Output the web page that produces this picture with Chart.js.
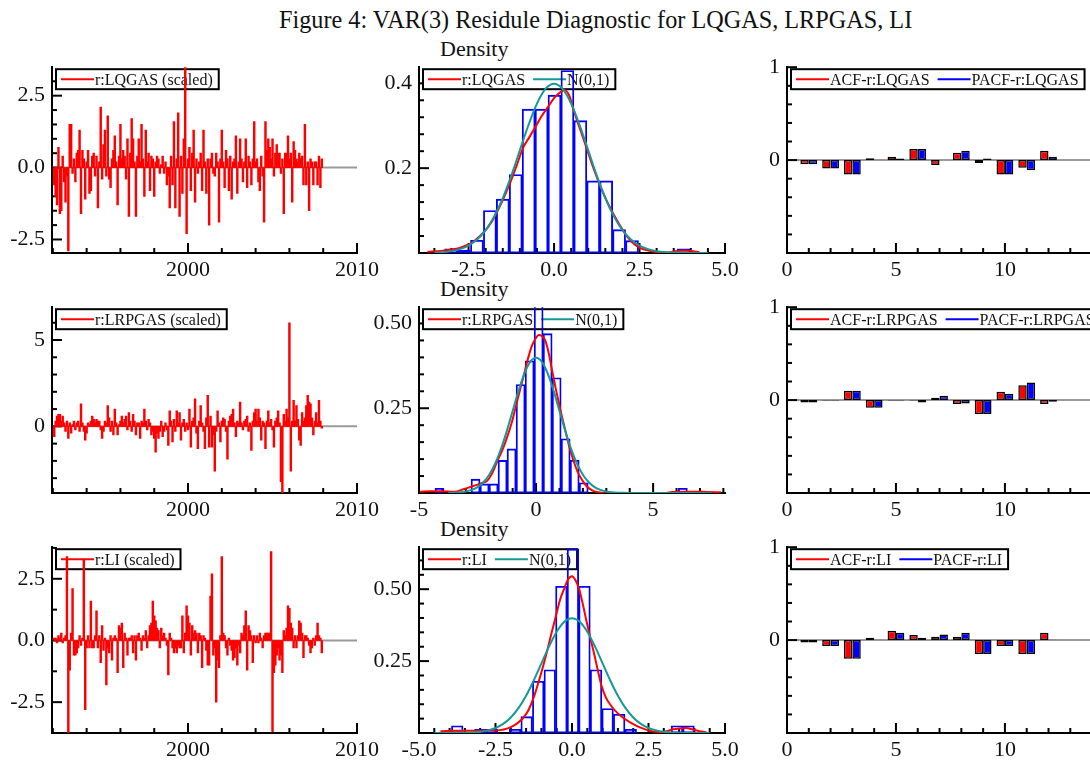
<!DOCTYPE html>
<html>
<head>
<meta charset="utf-8">
<title>VAR(3) Residule Diagnostic</title>
<script src="https://cdn.jsdelivr.net/npm/chart.js@4.4.1/dist/chart.umd.min.js"></script>
<style>
  html, body { margin: 0; padding: 0; background: #fff; overflow: hidden; }
  #page { position: relative; width: 1090px; height: 760px; overflow: hidden; }
  #page canvas { position: absolute; }
  .lbl { position: absolute; font-family: 'Liberation Serif', 'Times New Roman', serif; color: #111; line-height: 1; white-space: nowrap; }
  .dens { font-size: 22px; left: 440px; }
</style>
</head>
<body>
<div id="page">
  <div id="title" class="lbl">Figure 4: VAR(3) Residule Diagnostic for LQGAS, LRPGAS, LI</div>
  <div class="lbl dens" style="top:38px">Density</div>
  <div class="lbl dens" style="top:278px">Density</div>
  <div class="lbl dens" style="top:518px">Density</div>
</div>
<script>
// ---- data ----
const seriesNames = ['LQGAS', 'LRPGAS', 'LI'];

// scaled residuals, monthly, first obs 1992(2)
const tsStart = 1992 + 1 / 12;
const lqgasRes = [
  -0.6, -1.0, -1.3, 0.7, -1.6, -1.5, 0.4, -0.5, -1.2, -0.3, -2.9, 1.5,
  1.5, -0.2, 0.3, -0.5, 0.5, 0.6, 1.3, -1.6, 0.6, 0.3, -1.1, 0.2,
  0.6, -0.9, -0.8, 0.4, 0.5, -0.3, 0.4, -1.4, 0.2, 2.1, -0.4, 0.8,
  1.3, -0.3, 1.8, -0.4, -0.7, 0.3, 0.6, 1.1, 0.2, -1.3, 0.4, 1.5,
  0.3, 0.6, 0.4, -0.4, 1.0, -1.7, 0.5, 1.7, 1.0, 0.2, -1.7, 0.4,
  1.0, 0.2, 1.5, 0.3, -1.0, 1.3, 0.2, 0.5, -0.8, 0.4, 0.3, -1.0,
  0.2, 0.4, 0.3, -0.2, 0.1, 0.4, -0.2, 0.2, -0.6, -0.3, -1.4, 0.4,
  -0.6, 1.6, -1.4, 0.3, 1.9, -1.7, 0.4, -0.9, 1.0, 3.5, -2.3, 0.3,
  0.7, -0.8, 0.5, 1.3, -1.2, 0.3, -0.2, 0.2, 0.5, -0.8, 1.3, 0.2,
  -0.9, 0.3, -2.0, 0.3, 0.5, -0.2, -0.3, 0.5, 0.2, -1.9, 0.3, 1.3,
  0.2, -0.7, 0.6, 0.3, -0.8, 0.4, -1.1, 0.2, 0.3, 1.1, -0.9, 0.2,
  1.0, 0.3, -0.5, 0.2, 1.0, -0.7, 0.4, 0.2, -0.6, 0.3, 1.6, 0.2,
  0.3, -0.5, -0.8, 0.4, -0.3, -1.9, 1.6, 0.6, 1.0, 0.7, 0.3, 1.0,
  -0.3, 0.5, 0.8, 0.5, 0.5, -0.2, 0.3, -1.6, 0.5, 0.5, 1.1, 0.3,
  0.5, -1.2, 0.9, 0.6, 0.3, 0.2, 0.5, 0.3, 0.4, -0.6, 1.5, -0.6,
  0.2, -1.5, 0.3, 0.2, -0.6, 0.2, 0.2, -0.6, 0.4, -0.7, 0.3
];
const lrpgasRes = [
  -0.6, 0.3, 0.6, 0.7, 0.7, 0.3, 0.6, 0.2, -0.3, 0.3, -0.7, 0.2,
  -0.4, 0.1, 0.3, -0.2, 0.2, 0.3, -0.3, 1.3, 0.2, -0.3, -0.8, -0.4,
  0.2, 0.1, 0.3, 0.6, 0.4, 0.2, 0.4, 0.3, 0.3, -0.2, -0.7, -0.3,
  0.3, 0.2, 1.2, 0.5, -0.3, 0.3, -0.5, 1.0, 0.2, -0.5, 0.1, 0.3,
  0.6, 0.2, 0.4, 0.6, -0.2, 0.8, 0.3, -0.3, 0.7, 0.3, -0.5, 0.2,
  0.2, -0.7, 0.3, 0.2, 1.0, 0.3, -0.2, 0.4, 0.2, -0.5, -0.3, -0.7,
  -1.5, -0.4, -0.7, -0.3, 0.3, -0.6, -0.3, 0.2, -0.2, -1.1, 0.9, 0.3,
  -0.9, 0.4, -0.3, 0.9, 0.2, 0.8, -0.8, 0.2, 0.4, -0.3, 0.2, -0.2,
  1.0, -1.2, 0.3, 0.5, 1.6, -0.4, -1.3, 0.3, 1.2, 0.2, -0.3, -1.3,
  0.5, 1.8, -1.2, 0.6, -1.2, -0.5, -2.6, -0.3, 0.9, 0.2, -0.9, 0.3,
  0.5, 0.4, -0.3, -1.9, 0.3, 0.6, 0.7, 1.0, 0.2, -0.6, 0.3, 0.2,
  1.4, 0.2, -0.2, 0.3, 0.4, 0.6, -0.3, 0.2, -1.4, 0.3, 0.8, 1.0,
  0.3, 1.0, 0.5, -0.8, 0.3, 0.2, -1.3, 0.3, 0.9, 0.2, 0.4, -0.2,
  -1.2, 0.3, 0.5, 0.9, 0.2, -3.2, -3.9, 0.7, 0.3, 1.0, 0.5, 6.0,
  -2.6, 0.3, 1.5, 0.3, 1.2, 0.4, -0.8, -1.1, 0.8, 0.3, 0.5, 1.2,
  1.8, 1.4, 1.3, 0.5, -0.5, 0.3, 0.8, 0.2, 1.5, 0.3, -0.1
];
const liRes = [
  0.1, 0.1, -0.1, 0.2, 0.1, 0.3, -0.1, 0.1, 0.2, 3.4, -3.9, -1.2,
  0.3, 2.1, -0.6, -0.6, -0.5, -0.3, 0.2, -0.2, 0.1, 3.3, -2.8, -0.3,
  0.2, -0.3, 1.6, -0.3, -0.3, 0.2, 1.2, -0.3, 0.2, -0.9, 0.6, -0.4,
  0.1, -1.8, -0.3, -0.5, 0.2, -0.8, 0.1, 0.2, 0.1, -1.3, 0.6, 0.5,
  0.7, -1.1, 0.3, 0.1, -0.6, 0.1, 0.1, 0.2, -0.5, 0.2, -0.8, 0.2,
  0.3, 0.1, -0.4, 0.2, 0.1, 0.4, -0.3, 0.2, 0.6, 0.7, 1.6, 1.0,
  0.8, 0.5, 0.4, -0.3, 0.5, 0.2, 0.3, 0.1, -0.2, -1.4, 0.3, 0.1,
  -0.3, -0.5, -0.3, -0.5, -0.2, -0.3, -0.3, 1.0, -0.5, 0.3, 1.4, 1.0,
  0.7, -0.6, 0.6, 0.3, 0.4, 0.3, -0.5, 0.3, 0.2, -1.1, 0.2, 0.1,
  -0.4, -1.0, -1.0, 1.8, 2.7, -0.6, -0.3, -2.5, -0.8, -1.1, 0.2, 3.4,
  0.3, 0.2, -0.3, -0.6, 0.1, -0.2, -0.4, -0.8, -0.7, -0.3, -1.0, -0.2,
  -0.5, 0.3, 0.2, 0.6, 1.2, -1.2, 0.6, 0.4, 0.2, -0.9, 0.2, -0.1,
  0.2, -0.1, 0.3, 0.1, -0.3, 0.2, 0.3, 0.3, 0.3, 0.3, 3.6, -3.7,
  -1.3, -1.0, -0.6, -0.3, -0.8, -0.6, -1.3, 0.4, 0.2, 0.5, 1.4, 1.3,
  0.7, 0.5, -0.3, 0.2, -0.3, 0.2, 0.8, 0.7, 0.3, -0.7, 0.2, 0.2,
  0.1, -0.2, -0.5, -0.3, 0.1, -0.2, 0.2, 0.7, 0.2, 0.1, -0.5
];

// histograms (bin centres, density heights)
const histX1 = [-3.011, -2.633, -2.255, -1.877, -1.499, -1.121, -0.743, -0.365, 0.013, 0.391,
  0.769, 1.147, 1.525, 1.903, 2.281, 2.659, 3.037, 3.415, 3.793];
const histY1 = [0.01, 0.007, 0.03, 0.10, 0.127, 0.185, 0.339, 0.339, 0.372, 0.43,
  0.312, 0.17, 0.17, 0.055, 0.029, 0, 0, 0, 0.01];
const histX2 = [-4.125, -3.740, -3.355, -2.970, -2.585, -2.200, -1.815, -1.430, -1.045, -0.660,
  -0.275, 0.110, 0.495, 0.880, 1.265, 1.650, 2.035, 2.420, 2.805, 3.190,
  3.575, 3.960, 4.345, 4.730, 5.115, 5.500, 5.885, 6.270];
const histY2 = [0.014, 0, 0, 0, 0.041, 0.027, 0.027, 0.096, 0.13, 0.32,
  0.39, 0.57, 0.47, 0.34, 0.16, 0.097, 0.03, 0, 0, 0,
  0, 0, 0, 0, 0, 0, 0, 0.014];
const histX3 = [-3.750, -3.372, -2.994, -2.616, -2.238, -1.860, -1.482, -1.104, -0.726, -0.348,
  0.030, 0.408, 0.786, 1.164, 1.542, 1.920, 2.298, 2.676, 3.054, 3.432, 3.810];
const histY3 = [0.025, 0, 0.013, 0.013, 0, 0.013, 0.057, 0.18, 0.22, 0.51,
  0.64, 0.51, 0.22, 0.085, 0.065, 0.013, 0, 0, 0, 0.025, 0.025];

// kernel density of the residuals
const densX1 = [-3.7, -3.3, -3.0, -2.76, -2.5, -2.37, -2.2, -2.02, -1.85, -1.68, -1.5, -1.29, -1.1, -0.9,
  -0.73, -0.56, -0.37, -0.17, 0.0, 0.17, 0.3, 0.45, 0.6, 0.77, 0.96, 1.13, 1.3, 1.5, 1.69, 1.89,
  2.08, 2.28, 2.47, 2.65, 2.8, 3.0, 3.2, 3.4, 3.6, 3.8, 4.0, 4.25];
const densY1 = [0.003, 0.005, 0.008, 0.012, 0.02, 0.026, 0.038, 0.052, 0.07, 0.095, 0.125, 0.164, 0.205, 0.249,
  0.272, 0.295, 0.322, 0.345, 0.365, 0.378, 0.384, 0.37, 0.33, 0.29, 0.245, 0.205, 0.168, 0.13, 0.099, 0.07,
  0.045, 0.026, 0.014, 0.008, 0.005, 0.002, 0.001, 0.002, 0.005, 0.006, 0.005, 0.002];
const densX2 = [-4.95, -4.5, -4.0, -3.5, -3.1, -2.8, -2.53, -2.3, -2.1, -1.9, -1.68, -1.45, -1.25, -1.05,
  -0.89, -0.7, -0.54, -0.35, -0.18, 0.0, 0.11, 0.25, 0.39, 0.55, 0.68, 0.85, 1.03, 1.23, 1.43, 1.6,
  1.81, 2.0, 2.17, 2.4, 2.6, 3.0, 5.5, 5.8, 6.3, 6.8, 7.3, 7.9];
const densY2 = [0.004, 0.005, 0.005, 0.004, 0.011, 0.018, 0.024, 0.03, 0.035, 0.055, 0.09, 0.125, 0.162, 0.205,
  0.248, 0.3, 0.343, 0.395, 0.434, 0.458, 0.466, 0.463, 0.45, 0.41, 0.363, 0.305, 0.248, 0.19, 0.134, 0.095,
  0.057, 0.035, 0.019, 0.008, 0.003, 0.0, 0.0, 0.003, 0.004, 0.004, 0.003, 0.002];
const densX3 = [-4.3, -3.8, -3.3, -3.0, -2.65, -2.35, -2.1, -1.92, -1.75, -1.59, -1.42, -1.26, -1.1, -0.94,
  -0.8, -0.67, -0.53, -0.4, -0.26, -0.13, 0.0, 0.12, 0.25, 0.36, 0.47, 0.6, 0.74, 0.85, 0.96, 1.1,
  1.29, 1.48, 1.67, 1.9, 2.11, 2.33, 2.54, 2.75, 2.98, 3.15, 3.3, 3.5, 3.73, 3.95, 4.16, 4.4];
const densY3 = [0.006, 0.008, 0.008, 0.008, 0.009, 0.01, 0.016, 0.025, 0.037, 0.053, 0.08, 0.121, 0.175, 0.234,
  0.29, 0.347, 0.405, 0.46, 0.5, 0.534, 0.545, 0.53, 0.494, 0.445, 0.39, 0.33, 0.268, 0.215, 0.166, 0.125,
  0.093, 0.07, 0.053, 0.037, 0.025, 0.015, 0.008, 0.004, 0.003, 0.008, 0.013, 0.016, 0.017, 0.012, 0.006, 0.002];

// N(0,1) reference curve and the span drawn in each panel
const normX = [-4.5, -4.25, -4.0, -3.75, -3.5, -3.25, -3.0, -2.75, -2.5, -2.25, -2.0, -1.75, -1.5, -1.25,
  -1.0, -0.75, -0.5, -0.25, 0, 0.25, 0.5, 0.75, 1.0, 1.25, 1.5, 1.75, 2.0, 2.25, 2.5, 2.75,
  3.0, 3.25, 3.5, 3.75, 4.0, 4.25, 4.5, 5.0, 6.0, 7.0, 7.5];
const normY = [0, 0, 0.0001, 0.0004, 0.0009, 0.002, 0.0044, 0.0091, 0.0175, 0.0317, 0.054, 0.0863, 0.1295, 0.1826,
  0.242, 0.3011, 0.3521, 0.3867, 0.3989, 0.3867, 0.3521, 0.3011, 0.242, 0.1826, 0.1295, 0.0863, 0.054, 0.0317, 0.0175, 0.0091,
  0.0044, 0.002, 0.0009, 0.0004, 0.0001, 0, 0, 0, 0, 0, 0];
const normRange = [[-3.5, 4.75], [-3.75, 7.5], [-4.5, 4.5]];

// correlograms, lags 1..12
const lags = [1, 2, 3, 4, 5, 6, 7, 8, 9, 10, 11, 12];
const acfLQGAS = [-0.045, -0.09, -0.155, 0.02, 0.036, 0.12, -0.054, 0.08, -0.03, -0.155, -0.083, 0.1];
const pacfLQGAS = [-0.045, -0.09, -0.155, 0.004, 0.018, 0.12, 0, 0.1, 0.018, -0.155, -0.11, 0.036];
const acfLRPGAS = [-0.025, -0.005, 0.1, -0.082, -0.005, -0.004, 0.025, -0.043, -0.15, 0.09, 0.16, -0.043];
const pacfLRPGAS = [-0.025, -0.005, 0.1, -0.082, -0.005, -0.025, 0.046, -0.036, -0.15, 0.068, 0.19, -0.018];
const acfLI = [-0.025, -0.064, -0.2, 0.025, 0.1, 0.054, 0.036, 0.036, -0.15, -0.064, -0.15, 0.08];
const pacfLI = [-0.025, -0.064, -0.2, 0.005, 0.08, 0.025, 0.06, 0.08, -0.15, -0.064, -0.15, 0.005];

// labelled ticks
const yearTicks = [2000, 2010];
const resTicksY = [[-2.5, 0, 2.5], [0, 5], [-2.5, 0, 2.5]];
const densTicksX = [[-2.5, 0, 2.5, 5], [-5, 0, 5], [-5, -2.5, 0, 2.5, 5]];
const densTicksY = [[0.2, 0.4], [0.25, 0.5], [0.25, 0.5]];
const lagTicks = [0, 5, 10];
const corrTicksY = [0, 1];

// ---- look ----
const SERIF = "'Liberation Serif', 'Times New Roman', serif";
const RED = '#ff0000', BLUE = '#0000ff', TEAL = '#14999a', INK = '#111111';

const colBox = [
  { plotL: 52, plotR: 357, left: 0, padR: 32 },
  { plotL: 419, plotR: 725, left: 362, padR: 32 },
  { plotL: 787, plotR: 1091, left: 738, padR: 0 }
];
const rowBox = [
  { plotT: 63, plotB: 253 },
  { plotT: 303, plotB: 493 },
  { plotT: 543, plotB: 733 }
];
const PAD_TOP = 16, X_AXIS_H = 27;

const page = document.getElementById('page');

// title, stretched to the width it has in the figure
(() => {
  const t = document.getElementById('title');
  const m = document.createElement('canvas').getContext('2d');
  m.font = '22px ' + SERIF;
  const fs = 22 * 634 / m.measureText(t.textContent).width;
  t.style.fontSize = fs + 'px';
  t.style.left = '279px';
  t.style.top = (28 - 0.8375 * fs) + 'px';
})();

function line(ctx, x1, y1, x2, y2) {
  ctx.beginPath(); ctx.moveTo(x1, y1); ctx.lineTo(x2, y2); ctx.stroke();
}

// inner tick marks, zero line and boxed legend
const decor = {
  id: 'decor',
  beforeDatasetsDraw(chart) {
    const o = chart.canvas.decor || {};
    const { ctx, chartArea: a, scales: { x, y } } = chart;
    ctx.save();
    if (o.zeroLine) {
      ctx.strokeStyle = '#9a9a9a'; ctx.lineWidth = 2;
      const py = y.getPixelForValue(0);
      line(ctx, a.left, py, a.right, py);
    }
    ctx.strokeStyle = '#000'; ctx.lineWidth = 2;
    x.ticks.forEach(t => {
      const px = x.getPixelForValue(t.value);
      line(ctx, px, a.bottom, px, a.bottom - (t.label ? 10 : 5));
    });
    y.ticks.forEach(t => {
      const py = y.getPixelForValue(t.value);
      line(ctx, a.left, py, a.left + (t.label ? 10 : 5), py);
    });
    if (o.legend) {
      ctx.font = '16px ' + SERIF;
      const x0 = a.left + 4, y0 = a.top + 2, h = 20, sw = 33;
      const widths = o.legend.map(it => ctx.measureText(it.text).width);
      let w = 5;
      widths.forEach((tw, i) => { w += sw + 1 + tw + (i < widths.length - 1 ? 8 : 6); });
      ctx.fillStyle = '#fff';
      ctx.fillRect(x0, y0, w, h);
      ctx.strokeStyle = '#000'; ctx.lineWidth = 2;
      ctx.strokeRect(x0, y0, w, h);
      let cx = x0 + 5;
      o.legend.forEach((it, i) => {
        ctx.strokeStyle = it.color; ctx.lineWidth = 2;
        line(ctx, cx, y0 + h / 2, cx + sw, y0 + h / 2);
        cx += sw + 1;
        ctx.fillStyle = INK; ctx.textBaseline = 'alphabetic'; ctx.textAlign = 'left';
        ctx.fillText(it.text, cx, y0 + 16);
        cx += widths[i] + 8;
      });
    }
    ctx.restore();
  }
};

function axis(min, max, step, majors, fmt, isX) {
  return {
    type: 'linear', min, max, offset: false,
    grid: { display: false, drawTicks: false },
    border: { display: true, color: '#000', width: 2 },
    ticks: {
      stepSize: step, autoSkip: false, includeBounds: false, maxRotation: 0,
      padding: isX ? 4 : 7, color: INK, font: { family: SERIF, size: 22 },
      callback: v => majors.some(m => Math.abs(m - v) < 1e-6) ? fmt(v) : ''
    }
  };
}

function panel(c, r, datasets, xAxis, yAxis, deco) {
  const cb = colBox[c], rb = rowBox[r];
  const yW = cb.plotL - cb.left;
  const cv = document.createElement('canvas');
  cv.width = yW + (cb.plotR - cb.plotL) + cb.padR;
  cv.height = PAD_TOP + (rb.plotB - rb.plotT) + X_AXIS_H;
  cv.style.left = cb.left + 'px';
  cv.style.top = (rb.plotT - PAD_TOP) + 'px';
  cv.decor = deco;
  page.appendChild(cv);
  xAxis.afterFit = s => { s.height = X_AXIS_H; };
  yAxis.afterFit = s => { s.width = yW; };
  return new Chart(cv, {
    type: 'bar',
    data: { datasets },
    options: {
      responsive: false, animation: false, devicePixelRatio: 1, events: [],
      layout: { padding: { top: PAD_TOP, right: cb.padR, left: 0, bottom: 0 } },
      scales: { x: xAxis, y: yAxis },
      plugins: { legend: { display: false }, tooltip: { enabled: false } }
    },
    plugins: [decor]
  });
}

const pts = (xs, ys) => xs.map((x, i) => ({ x, y: ys[i] }));
const fix1 = v => v.toFixed(1), fix2 = v => v.toFixed(2), plain = v => String(v);

// column 1: scaled residuals
const resSeries = [lqgasRes, lrpgasRes, liRes];
const resRange = [[-2.97, 3.49], [-3.86, 6.9], [-3.75, 3.78]];
const resStep = [0.5, 1, 1.25];
const resFmt = [fix1, plain, fix1];
resSeries.forEach((vals, r) => {
  panel(0, r, [{
    data: vals.map((v, i) => ({ x: tsStart + i / 12, y: v })),
    backgroundColor: RED, borderWidth: 0, barThickness: 1.8, grouped: false
  }],
  axis(1991.95, 2010, 2, yearTicks, plain, true),
  axis(resRange[r][0], resRange[r][1], resStep[r], resTicksY[r], resFmt[r], false),
  { zeroLine: true, legend: [{ text: 'r:' + seriesNames[r] + ' (scaled)', color: RED }] });
});

// column 2: densities
const hists = [[histX1, histY1], [histX2, histY2], [histX3, histY3]];
const dens = [[densX1, densY1], [densX2, densY2], [densX3, densY3]];
const densRangeX = [[-3.95, 5.0], [-5.0, 8.07], [-5.0, 5.0]];
const densMaxY = [0.438, 0.548, 0.646];
const densStepX = [0.5, 1, 0.5], densStepY = [0.04, 0.05, 0.05];
const densFmtX = [fix1, plain, fix1], densFmtY = [fix1, fix2, fix2];
hists.forEach((h, r) => {
  const nIdx = normX.map((x, i) => i).filter(i => normX[i] >= normRange[r][0] && normX[i] <= normRange[r][1]);
  panel(1, r, [
    { type: 'bar', data: pts(h[0], h[1]), order: 3, backgroundColor: 'rgba(0,0,0,0)',
      borderColor: BLUE, borderWidth: 1.2, borderSkipped: false, barPercentage: 1, categoryPercentage: 1 },
    { type: 'line', data: pts(dens[r][0], dens[r][1]), order: 2, borderColor: RED, borderWidth: 2,
      pointRadius: 0, fill: false, cubicInterpolationMode: 'monotone' },
    { type: 'line', data: nIdx.map(i => ({ x: normX[i], y: normY[i] })), order: 1, borderColor: TEAL,
      borderWidth: 2, pointRadius: 0, fill: false, cubicInterpolationMode: 'monotone' }
  ],
  axis(densRangeX[r][0], densRangeX[r][1], densStepX[r], densTicksX[r], densFmtX[r], true),
  axis(0, densMaxY[r], densStepY[r], densTicksY[r], densFmtY[r], false),
  { legend: [{ text: 'r:' + seriesNames[r], color: RED }, { text: 'N(0,1)', color: TEAL }] });
});

// column 3: ACF / PACF
const acfs = [[acfLQGAS, pacfLQGAS], [acfLRPGAS, pacfLRPGAS], [acfLI, pacfLI]];
acfs.forEach((a, r) => {
  const common = { borderColor: '#000', borderWidth: 1.5, borderSkipped: false, barPercentage: 1, categoryPercentage: 0.77 };
  panel(2, r, [
    Object.assign({ data: pts(lags, a[0]), backgroundColor: RED }, common),
    Object.assign({ data: pts(lags, a[1]), backgroundColor: BLUE }, common)
  ],
  axis(0, 13.95, 1, lagTicks, plain, true),
  axis(-1, 1, 0.2, corrTicksY, plain, false),
  { zeroLine: true, legend: [{ text: 'ACF-r:' + seriesNames[r], color: RED }, { text: 'PACF-r:' + seriesNames[r], color: BLUE }] });
});
</script>
</body>
</html>
